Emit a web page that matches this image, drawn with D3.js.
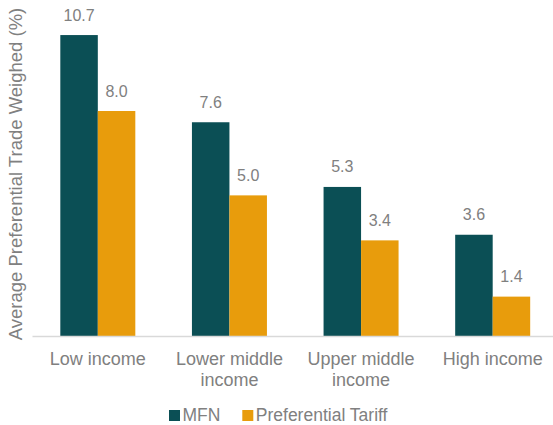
<!DOCTYPE html>
<html>
<head>
<meta charset="utf-8">
<script src="https://cdn.jsdelivr.net/npm/d3@7"></script>
<style>
  html, body { margin: 0; padding: 0; background: #fff; }
  svg { display: block; font-family: "Liberation Sans", Arial, sans-serif; }
</style>
</head>
<body>
<svg id="chart" width="553" height="425"></svg>
<script>
// Income groups and tariff averages (%)
const categories = [["Low income"], ["Lower middle", "income"], ["Upper middle", "income"], ["High income"]];
const categoryKeys = ["Low income", "Lower middle income", "Upper middle income", "High income"];
const seriesNames = ["MFN", "Preferential Tariff"];
const mfnValues = [10.7, 7.6, 5.3, 3.6];
const preferentialValues = [8.0, 5.0, 3.4, 1.4];
const seriesColors = ["#0b4f55", "#e89c0c"];

const svg = d3.select("#chart");
const textColor = "#808080";

const x = d3.scaleBand().domain(categoryKeys).range([32, 558.5]).paddingInner(0).paddingOuter(0);
const y = d3.scaleLinear().domain([0, 12]).range([336, -1.5]);
const barW = 37.5;

const rows = categoryKeys.map((k, i) => ({ key: k, vals: [mfnValues[i], preferentialValues[i]] }));

// bars with value labels
const g = svg.append("g");
rows.forEach(r => {
  const cx = x(r.key) + x.bandwidth() / 2;
  r.vals.forEach((v, j) => {
    const x0 = cx - barW + j * barW;
    g.append("rect")
      .attr("x", x0).attr("width", barW)
      .attr("y", y(v)).attr("height", y(0) - y(v))
      .attr("fill", seriesColors[j]);
    g.append("text")
      .attr("x", x0 + barW / 2).attr("y", y(v) - 14.5)
      .attr("text-anchor", "middle")
      .attr("font-size", 16).attr("fill", textColor)
      .text(v.toFixed(1));
  });
});

// category axis
const axis = svg.append("g").attr("transform", `translate(0,${y(0)})`)
  .call(d3.axisBottom(x).tickSize(0).tickFormat(""));
axis.select(".domain").attr("stroke", "#d9d9d9").attr("stroke-width", 1.5);

categoryKeys.forEach((k, i) => {
  const t = svg.append("text")
    .attr("x", x(k) + x.bandwidth() / 2).attr("y", 364.5)
    .attr("text-anchor", "middle").attr("font-size", 18).attr("fill", textColor);
  categories[i].forEach((line, li) => {
    t.append("tspan").attr("x", x(k) + x.bandwidth() / 2).attr("dy", li === 0 ? 0 : 21.5).text(line);
  });
});

// y-axis title
svg.append("text")
  .attr("transform", "translate(22,174) rotate(-90)")
  .attr("text-anchor", "middle").attr("font-size", 18.5).attr("fill", textColor)
  .text("Average Preferential Trade Weighed (%)");

// legend
const legendItems = [{ name: seriesNames[0], color: seriesColors[0], x: 169 }, { name: seriesNames[1], color: seriesColors[1], x: 242.3 }];
legendItems.forEach(d => {
  svg.append("rect").attr("x", d.x).attr("y", 410).attr("width", 11).attr("height", 11).attr("fill", d.color);
  svg.append("text").attr("x", d.x + 13.5).attr("y", 421).attr("font-size", 17.5).attr("fill", textColor).text(d.name);
});
</script>
</body>
</html>
